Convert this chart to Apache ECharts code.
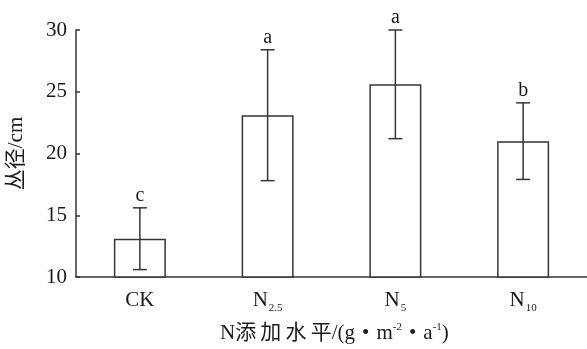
<!DOCTYPE html>
<html><head><meta charset="utf-8">
<script src="https://cdn.jsdelivr.net/npm/echarts@6/dist/echarts.min.js"></script>
<style>html,body{margin:0;padding:0;background:#fff}#c{width:587px;height:349px}</style>
</head><body><div id="c"></div>
<script>
const categories = ['CK', 'N2.5', 'N5', 'N10'];
const means = [13.1, 23.1, 25.6, 21.0];
const errors = [2.5, 5.3, 4.4, 3.1];
const letters = ['c', 'a', 'a', 'b'];
const yTicks = [10, 15, 20, 25, 30];

const SERIF = '"Liberation Serif","Times New Roman","Noto Sans CJK SC",serif';
const INK = '#353535';
const TXT = '#1a1a1a';
const chart = echarts.init(document.getElementById('c'));
const errData = means.map((m, i) => [i, m, errors[i]]);

chart.setOption({
  backgroundColor: '#fff',
  animation: false,
  grid: { left: 76, right: 0, top: 30, bottom: 72, containLabel: false, outerBoundsMode: 'none' },
  xAxis: {
    type: 'category',
    data: categories,
    axisTick: { show: false },
    axisLine: { lineStyle: { color: INK, width: 1.5 } },
    axisLabel: {
      interval: 0,
      margin: 12,
      color: TXT,
      fontFamily: SERIF,
      fontSize: 21,
      formatter: v => v.charAt(0) === 'N' ? '{n|N}{s|' + v.slice(1) + '}' : '{n|' + v + '}',
      rich: {
        n: { fontSize: 21, fontFamily: SERIF, color: TXT, lineHeight: 22, verticalAlign: 'bottom' },
        s: { fontSize: 11, fontFamily: SERIF, color: TXT, lineHeight: 22, verticalAlign: 'bottom', padding: [0, 0, -3, 1] }
      }
    }
  },
  yAxis: {
    type: 'value',
    min: yTicks[0],
    max: yTicks[yTicks.length - 1],
    interval: 5,
    name: '丛径/cm',
    nameLocation: 'middle',
    nameGap: 49,
    nameTextStyle: { fontSize: 21, fontFamily: SERIF, color: TXT },
    axisLine: { show: true, lineStyle: { color: INK, width: 1.5 } },
    axisTick: { show: true, inside: true, length: 4, lineStyle: { color: INK, width: 1.5 } },
    axisLabel: { fontSize: 21, fontFamily: SERIF, color: TXT, margin: 9 },
    splitLine: { show: false }
  },
  graphic: [{
    type: 'text',
    left: 220,
    top: 322,
    style: {
      text: 'N添\u2009加\u2009水\u2009平/(g \u200a•\u200a m{p|-2} \u200a•\u200a a{p|-1})',
      fontSize: 21,
      fontFamily: SERIF,
      fill: TXT,
      rich: { p: { fontSize: 11, fontFamily: SERIF, verticalAlign: 'top', lineHeight: 22 } }
    }
  }],
  series: [{
    type: 'bar',
    data: means,
    barWidth: 52,
    itemStyle: { color: '#fff', borderColor: INK, borderWidth: 1.5 }
  }, {
    type: 'custom',
    data: errData,
    z: 5,
    renderItem: function (params, api) {
      const x = api.value(0), m = api.value(1), s = api.value(2);
      const top = api.coord([x, m + s]);
      const bot = api.coord([x, m - s]);
      const hw = 7;
      const st = { stroke: INK, lineWidth: 1.5 };
      return {
        type: 'group',
        children: [
          { type: 'line', shape: { x1: top[0], y1: top[1], x2: bot[0], y2: bot[1] }, style: st },
          { type: 'line', shape: { x1: top[0] - hw, y1: top[1], x2: top[0] + hw, y2: top[1] }, style: st },
          { type: 'line', shape: { x1: bot[0] - hw, y1: bot[1], x2: bot[0] + hw, y2: bot[1] }, style: st },
          { type: 'text', x: top[0], y: top[1] - 2, style: { text: letters[params.dataIndex], align: 'center', verticalAlign: 'bottom', fontSize: 20, fontFamily: SERIF, fill: TXT } }
        ]
      };
    }
  }]
});
</script></body></html>
